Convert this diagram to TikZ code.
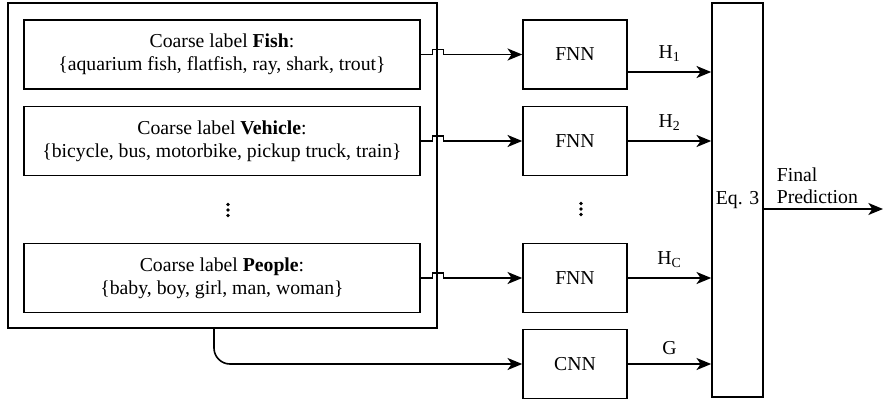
\documentclass[tikz,border=0pt]{standalone}
\usepackage{fontspec}
\setmainfont{Liberation Serif}
\usetikzlibrary{calc}
\usetikzlibrary{arrows.meta}

\begin{document}
\begin{tikzpicture}[x=0.75pt,y=-0.75pt,line width=1.2pt,
        box/.style={draw,rectangle,align=center,inner sep=0pt,
            font=\fontsize{14.8}{17}\selectfont},
        lbl/.style={font=\fontsize{14.8}{16.5}\selectfont},
        arr/.style={-{Stealth[length=11pt,width=9pt,inset=3pt]}}]
        \useasboundingbox (0,0) rectangle (885,400);
        % 外框
        \node [box,minimum width=321.75pt,minimum height=243.75pt] (outer) at (222.5,165.5) {};
        % 三个粗类别框
        \node [box,minimum width=297pt,minimum height=51.75pt] (fish) at (222,54.5)
            {Coarse label \textbf{Fish}:\\\{aquarium fish, flatfish, ray, shark, trout\}};
        \node [box,minimum width=297pt,minimum height=51.75pt] (vehicle) at (222,141)
            {Coarse label \textbf{Vehicle}:\\\{bicycle, bus, motorbike, pickup truck, train\}};
        \node [box,minimum width=297pt,minimum height=51.75pt] (people) at (222,278)
            {Coarse label \textbf{People}:\\\{baby, boy, girl, man, woman\}};
        % 省略号
        \coordinate (ldots) at (228,210);
        \coordinate (rdots) at (581,209);
        \foreach \i in {-1,0,1} {
            \fill (ldots) ++(0,\i*5.5) circle (1.9);
            \fill (rdots) ++(0,\i*5.5) circle (1.9);
        }

        % FNN 与 CNN
        \node [box,minimum width=78pt,minimum height=51.75pt] (fnnA) at (575,54.5) {FNN};
        \node [box,minimum width=78pt,minimum height=51.75pt] (fnnB) at (575,141) {FNN};
        \node [box,minimum width=78pt,minimum height=51.75pt] (fnnC) at (575,278) {FNN};
        \node [box,minimum width=78pt,minimum height=51.75pt] (cnn) at (575,364) {CNN};

        % 合并框
        \node [box,minimum width=38.25pt,minimum height=295.5pt] (eq) at (737.5,200) {Eq. 3};

        % 跨过外框的连线
        \foreach \a/\b in {fish/fnnA,vehicle/fnnB,people/fnnC}
            \draw [arr] (\a.east) -- ($(\a.east -| outer.east)+(-5.5,0)$) -- ++(0,-5)
                -- ++(11,0) -- ++(0,5) -- (\b.west);
        % 外框到 CNN
        \coordinate (xB) at (214,0);
        \draw [arr,rounded corners=12pt] (outer.south -| xB) |- (cnn.west);

        % 输出 H 与 G
        \coordinate (hA) at (0,72);
        \draw [arr] (fnnA.east |- hA) -- node [lbl,above=4pt] {H\textsubscript{1}} (eq.west |- hA);
        \draw [arr] (fnnB.east) -- node [lbl,above=4pt] {H\textsubscript{2}} (eq.west |- fnnB.east);
        \draw [arr] (fnnC.east) -- node [lbl,above=4pt] {H\textsubscript{C}} (eq.west |- fnnC.east);
        \draw [arr] (cnn.east) -- node [lbl,above=3pt] {G} (eq.west |- cnn.east);

        % 最终预测
        \coordinate (fp) at (883,209);
        \draw [arr] (eq.east |- fp) -- (fp);
        \node [lbl,align=left,inner sep=0pt,anchor=west] (final) at (776,186) {Final\\Prediction};
    \end{tikzpicture}
\end{document}
